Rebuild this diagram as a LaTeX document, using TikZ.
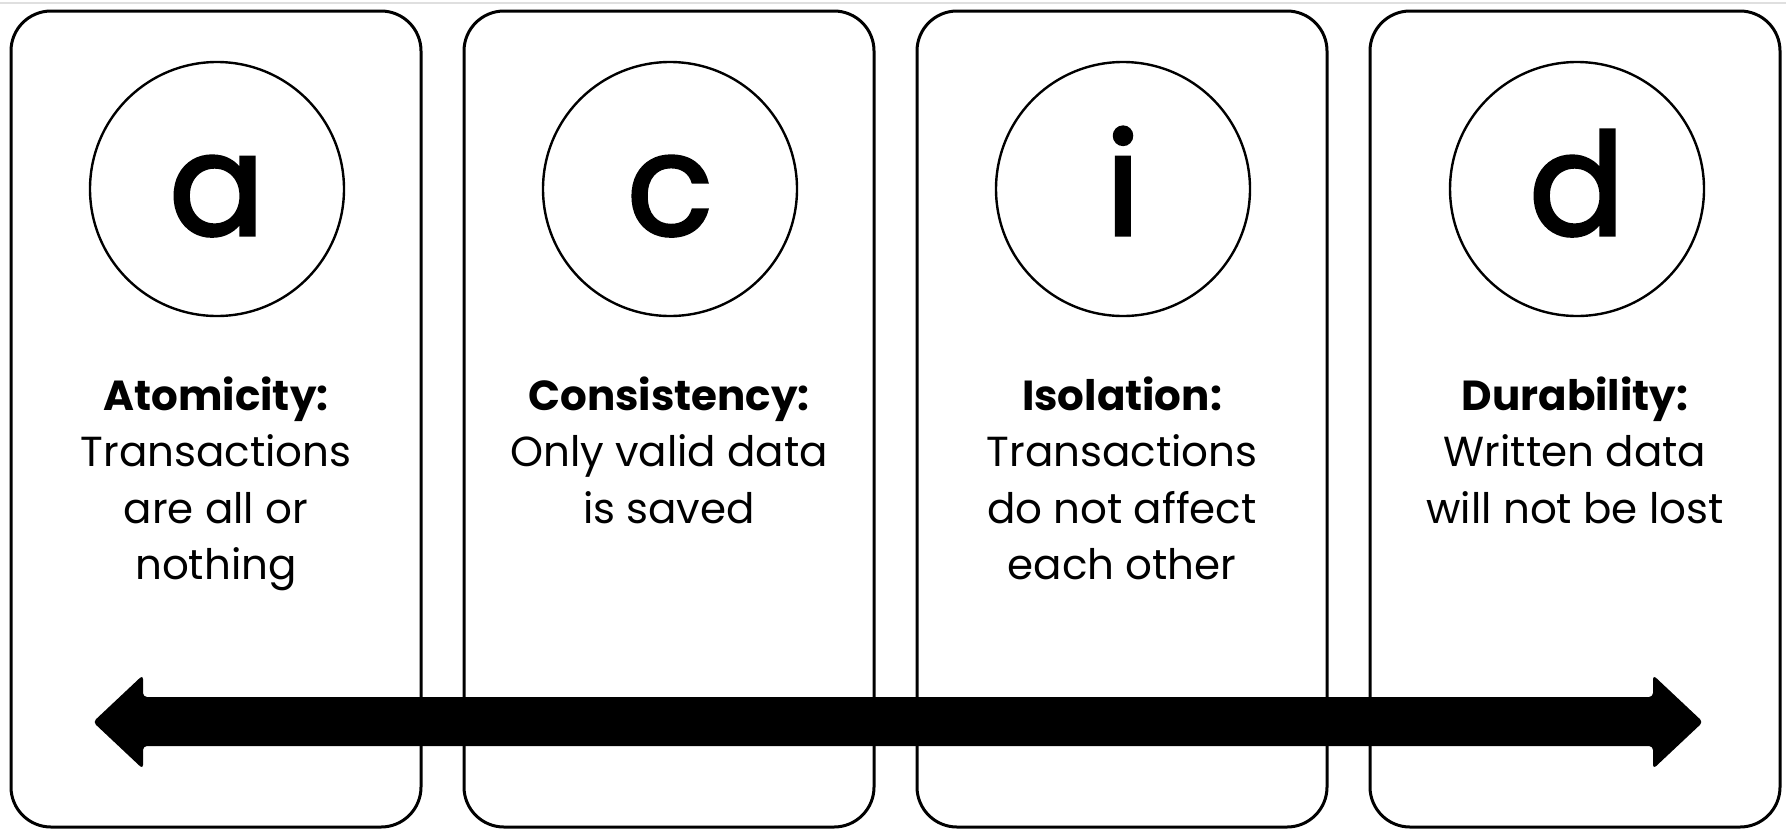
\documentclass[tikz,border=0pt]{standalone}
\usepackage{fontspec}
\setmainfont{Poppins}
\newfontfamily\letterfont[FakeBold=2.2]{Poppins}
\begin{document}
\begin{tikzpicture}[x=0.5pt,y=-0.5pt,
  card/.style={draw=black,line width=1.5pt,rounded corners=20pt,minimum width=205pt,minimum height=408pt,inner sep=0pt},
  disc/.style={draw=black,line width=1.2pt,circle,minimum size=127pt,inner sep=0pt},
  letter/.style={anchor=base,inner sep=0pt,font=\letterfont\fontsize{71}{71}\selectfont},
  desc/.style={anchor=north,align=center,inner sep=0pt,font=\fontsize{21}{28.3}\selectfont}]
\useasboundingbox (0,0) rectangle (1786,831);
\draw[gray!25,line width=0.6pt] (0,3) -- (1786,3);
% cards
\node[card] (b1) at (216,419) {};
\node[card] (b2) at (669,419) {};
\node[card] (b3) at (1122,419) {};
\node[card] (b4) at (1575,419) {};
% circles
\node[disc] (c1) at (217,189) {};
\node[disc] (c2) at (670,189) {};
\node[disc] (c3) at (1123,189) {};
\node[disc] (c4) at (1577,189) {};
\node[letter] (la) at (217,235) {a};
\node[letter] (lc) at (670,235) {c};
\node[letter] (li) at (1123,235) {i};
\node[letter] (ld) at (1577,235) {d};
% descriptions
\node[desc] (t1) at (216,376) {\textbf{Atomicity:}\\Transactions\\are all or\\nothing};
\node[desc] (t2) at (669,376) {\textbf{Consistency:}\\Only valid data\\is saved};
\node[desc] (t3) at (1122,376) {\textbf{Isolation:}\\Transactions\\do not affect\\each other};
\node[desc] (t4) at (1575,376) {\textbf{Durability:}\\Written data\\will not be lost};
% double arrow
\coordinate (L) at (93,722);
\coordinate (R) at (1703,722);
\fill[black,rounded corners=2pt] (L) -- (143,675) -- (143,697) -- (1653,697) -- (1653,675) -- (R) -- (1653,769) -- (1653,746) -- (143,746) -- (143,769) -- cycle;
\end{tikzpicture}
\end{document}
